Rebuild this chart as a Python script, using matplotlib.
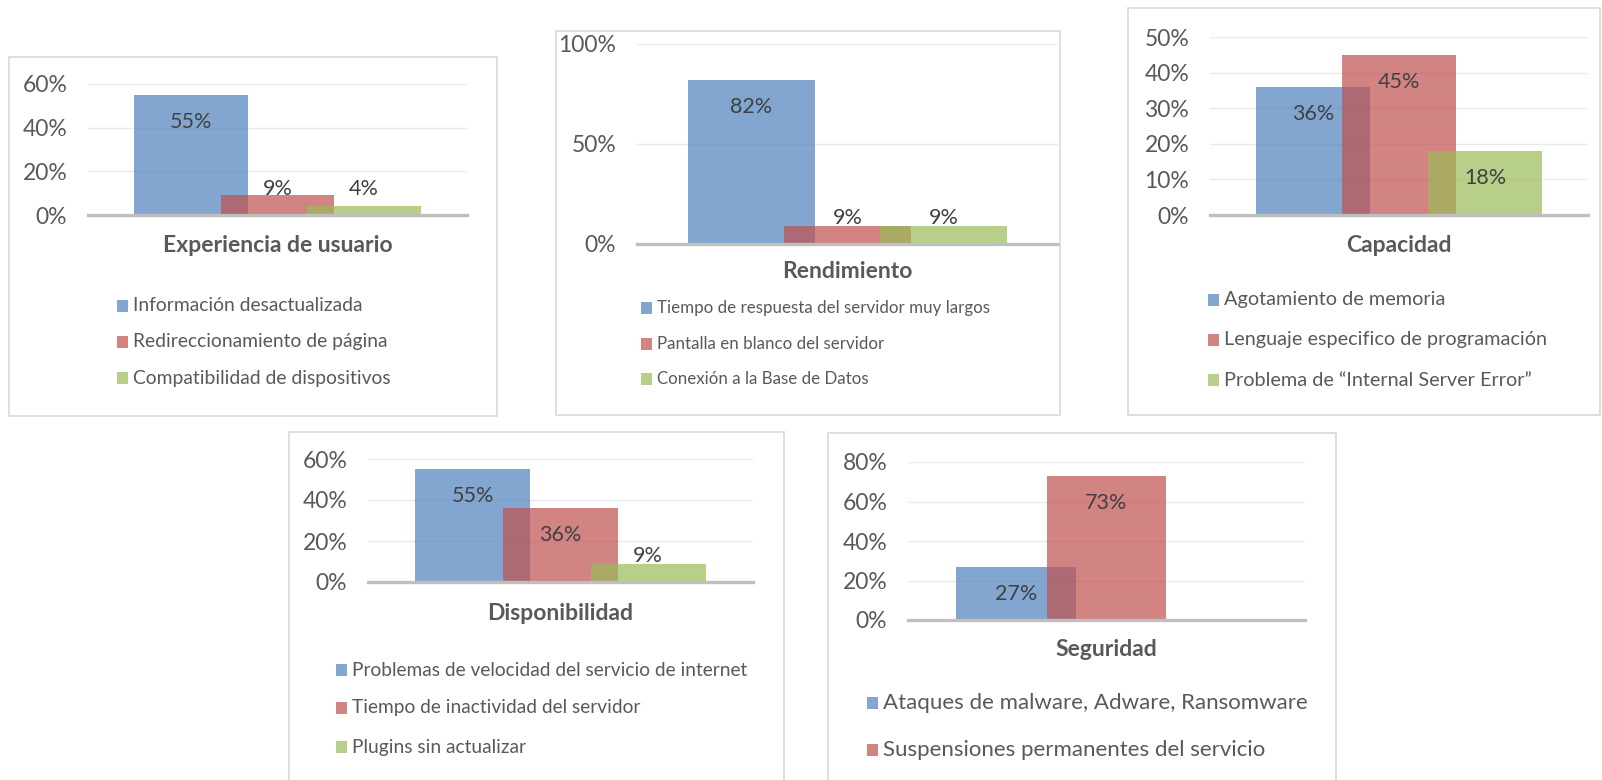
import numpy as np
import matplotlib.pyplot as plt
from matplotlib.patches import Rectangle
from matplotlib.ticker import PercentFormatter

plt.rcParams['font.family'] = ['Lato', 'DejaVu Sans']

W, H = 1602, 780
TXT = '#595959'
LBL = '#404040'
COLORS = ['#4F81BD', '#C0504D', '#9BBB59']
BAR_W = 0.30
STEP = 0.228

exp_labels = ['Información desactualizada', 'Redireccionamiento de página',
              'Compatibilidad de dispositivos']
exp_values = [0.55, 0.09, 0.04]

rend_labels = ['Tiempo de respuesta del servidor muy largos',
               'Pantalla en blanco del servidor', 'Conexión a la Base de Datos']
rend_values = [0.82, 0.09, 0.09]

cap_labels = ['Agotamiento de memoria', 'Lenguaje especifico de programación',
              'Problema de “Internal Server Error”']
cap_values = [0.36, 0.45, 0.18]

disp_labels = ['Problemas de velocidad del servicio de internet',
               'Tiempo de inactividad del servidor', 'Plugins sin actualizar']
disp_values = [0.55, 0.36, 0.09]

seg_labels = ['Ataques de malware, Adware, Ransomware',
              'Suspensiones permanentes del servicio']
seg_values = [0.27, 0.73]

fig = plt.figure(figsize=(W / 100, H / 100), dpi=100)


def fx(x):
    return x / W


def fy(y):
    return 1 - y / H


def panel(title, labels, values, frame, plot, ymax, ystep,
          title_y, leg_x, leg_rows, leg_size, title_size=16.5):
    # outer frame
    x0, y0, x1, y1 = frame
    fig.patches.append(Rectangle((fx(x0), fy(y1)), (x1 - x0) / W, (y1 - y0) / H,
                                 transform=fig.transFigure, fill=False,
                                 edgecolor='#D9D9D9', lw=1.2))

    px0, ptop, px1, pbase = plot
    ax = fig.add_axes([fx(px0), fy(pbase), (px1 - px0) / W, (pbase - ptop) / H])
    for i, v in enumerate(values):
        ax.bar((i - 1) * STEP, v, width=BAR_W, color=COLORS[i], alpha=0.7, zorder=2)

    ax.set_xlim(-0.5, 0.5)
    ax.set_ylim(0, ymax)
    ax.set_yticks(np.arange(0, ymax + 1e-9, ystep))
    ax.yaxis.set_major_formatter(PercentFormatter(1.0, decimals=0))
    ax.set_xticks([])
    ax.tick_params(axis='y', length=0, pad=15, labelsize=16.5, labelcolor=TXT)
    ax.yaxis.grid(True, color='#EAEAEA', lw=1)
    ax.set_axisbelow(True)
    for s in ['left', 'right', 'top']:
        ax.spines[s].set_visible(False)
    ax.spines['bottom'].set_color('#BFBFBF')
    ax.spines['bottom'].set_linewidth(2.4)
    ax.spines['bottom'].set_zorder(3)

    # value labels: inside the top of the bar, or lifted above when the bar is short
    ppu = (pbase - ptop) / ymax
    for i, v in enumerate(values):
        ypx = max(v * ppu - 27, 26)
        ax.text((i - 1) * STEP, ypx / ppu, f'{round(v * 100)}%', ha='center',
                va='center', fontsize=15.5, color=LBL, zorder=4)

    fig.text(fx((px0 + px1) / 2), fy(title_y), title, ha='center', va='center',
             fontsize=title_size, fontweight='bold', color=TXT)

    for j, lab in enumerate(labels):
        y = leg_rows[j]
        fig.patches.append(Rectangle((fx(leg_x), fy(y + 6)), 11 / W, 12 / H,
                                     transform=fig.transFigure, color=COLORS[j],
                                     alpha=0.7, lw=0))
        fig.text(fx(leg_x + 16), fy(y), lab, ha='left', va='center',
                 fontsize=leg_size, color=TXT)
    return ax


panel('Experiencia de usuario', exp_labels, exp_values,
      (9, 57, 497, 416), (88, 84, 467, 215), 0.6, 0.2,
      245, 117, [306, 342, 378], 13.9)

panel('Rendimiento', rend_labels, rend_values,
      (556, 31, 1060, 415), (637, 44, 1058, 244), 1.0, 0.5,
      272, 641, [308, 344, 379], 12.2)

panel('Capacidad', cap_labels, cap_values,
      (1128, 8, 1600, 415), (1210, 37, 1588, 215), 0.5, 0.1,
      245, 1208, [300, 340, 380], 14.3)

panel('Disponibilidad', disp_labels, disp_values,
      (289, 432, 784, 800), (368, 459, 753, 582), 0.6, 0.2,
      613, 336, [670, 708, 747], 13.8)

panel('Seguridad', seg_labels, seg_values,
      (828, 433, 1336, 800), (908, 462, 1305, 620), 0.8, 0.2,
      650, 867, [703, 750], 16)

fig.savefig('out.png', dpi=100, facecolor='white')
